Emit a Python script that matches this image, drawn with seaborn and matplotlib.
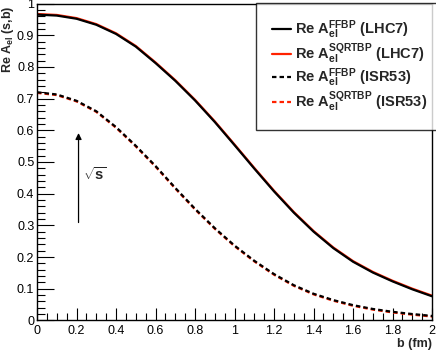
"""
Re A_el(s,b) vs impact parameter b, FFBP vs SQRTBP, LHC7 and ISR53.
"""

import matplotlib

matplotlib.use("Agg")
import matplotlib.pyplot as plt
import numpy as np
import pandas as pd
import seaborn as sns
from matplotlib.lines import Line2D
from matplotlib.ticker import FormatStrFormatter, MultipleLocator

# --- Data ------------------------------------------------------------------ #
b_fm = [0.0, 0.1, 0.2, 0.3, 0.4, 0.5, 0.6, 0.7, 0.8, 0.9, 1.0,
        1.1, 1.2, 1.3, 1.4, 1.5, 1.6, 1.7, 1.8, 1.9, 2.0]

lhc7_ffbp = [0.965, 0.962, 0.952, 0.933, 0.904, 0.864, 0.812, 0.756, 0.694, 0.626, 0.553,
             0.479, 0.407, 0.340, 0.280, 0.228, 0.185, 0.151, 0.123, 0.098, 0.076]
lhc7_sqrtbp = [0.967, 0.964, 0.954, 0.935, 0.906, 0.866, 0.814, 0.758, 0.696, 0.628, 0.555,
               0.481, 0.409, 0.342, 0.282, 0.230, 0.187, 0.153, 0.125, 0.100, 0.078]
isr53_ffbp = [0.720, 0.713, 0.693, 0.660, 0.610, 0.551, 0.487, 0.418, 0.352, 0.291, 0.236,
              0.188, 0.146, 0.111, 0.084, 0.064, 0.048, 0.036, 0.027, 0.020, 0.014]
isr53_sqrtbp = [0.718, 0.711, 0.691, 0.658, 0.608, 0.549, 0.485, 0.416, 0.350, 0.289, 0.234,
                0.186, 0.144, 0.109, 0.082, 0.062, 0.046, 0.034, 0.025, 0.018, 0.012]

series_labels = [
    r"Re A$_{el}^{FFBP}$ (LHC7)",
    r"Re A$_{el}^{SQRTBP}$ (LHC7)",
    r"Re A$_{el}^{FFBP}$ (ISR53)",
    r"Re A$_{el}^{SQRTBP}$ (ISR53)",
]

df = pd.DataFrame({
    "b": b_fm * 4,
    "re_a": lhc7_ffbp + lhc7_sqrtbp + isr53_ffbp + isr53_sqrtbp,
    "series": np.repeat(series_labels, len(b_fm)),
})

# --- Style ------------------------------------------------------------------ #
sns.set_style("ticks")
plt.rcParams["font.family"] = ["Liberation Sans", "DejaVu Sans"]
plt.rcParams["mathtext.fontset"] = "custom"
plt.rcParams["mathtext.rm"] = "Liberation Sans:bold"
plt.rcParams["mathtext.it"] = "Liberation Sans:bold"
plt.rcParams["mathtext.bf"] = "Liberation Sans:bold"
plt.rcParams["mathtext.default"] = "rm"

RED = "#ff2200"
DOT = (2.0, 1.4)
colors = {series_labels[0]: "black", series_labels[1]: RED,
          series_labels[2]: "black", series_labels[3]: RED}
solid = {series_labels[0]: True, series_labels[1]: True,
         series_labels[2]: False, series_labels[3]: False}

fig = plt.figure(figsize=(4.36, 3.54), dpi=100)
ax = fig.add_axes([0.085, 0.095, 0.906, 0.895])

# red drawn first, black on top
draw_order = [series_labels[1], series_labels[3], series_labels[0], series_labels[2]]
for name in draw_order:
    sub = df[df["series"] == name]
    sns.lineplot(data=sub, x="b", y="re_a", ax=ax, color=colors[name],
                 linewidth=1.6, legend=False,
                 linestyle="-" if solid[name] else (0, DOT))

ax.set_xlim(0, 2)
ax.set_ylim(0, 1)
ax.xaxis.set_major_locator(MultipleLocator(0.2))
ax.xaxis.set_minor_locator(MultipleLocator(0.05))
ax.yaxis.set_major_locator(MultipleLocator(0.1))
ax.yaxis.set_minor_locator(MultipleLocator(0.02))
ax.xaxis.set_major_formatter(FormatStrFormatter("%g"))
ax.yaxis.set_major_formatter(FormatStrFormatter("%g"))
ax.tick_params(which="both", direction="in", top=False, right=False,
               labelsize=9, colors="black", width=0.8)
ax.tick_params(axis="x", which="major", length=9, pad=3)
ax.tick_params(axis="x", which="minor", length=5)
ax.tick_params(axis="y", which="major", length=12, pad=2)
ax.tick_params(axis="y", which="minor", length=6)
for sp in ax.spines.values():
    sp.set_color("black")
    sp.set_linewidth(1.0)
ax.set_xlabel("")
ax.set_ylabel("")

# axis titles, ROOT-like placement
fig.text(0.991, 0.012, "b (fm)", ha="right", va="bottom", fontsize=9, fontweight="bold")
fig.text(0.018, 0.985, r"Re A$_{el}$ (s,b)", ha="center", va="top", rotation=90,
         fontsize=9, fontweight="bold")

# sqrt(s) arrow
ax.annotate("", xy=(0.21, 0.60), xytext=(0.21, 0.30),
            arrowprops=dict(arrowstyle="-|>", color="black", lw=0.9,
                            mutation_scale=9))
ax.text(0.235, 0.46, r"$\sqrt{s}$", fontsize=10.5, ha="left", va="center")

# legend (box runs off the right edge, as in the original)
handles = [
    Line2D([], [], color="black", lw=1.6),
    Line2D([], [], color=RED, lw=1.6),
    Line2D([], [], color="black", lw=1.6, dashes=DOT),
    Line2D([], [], color=RED, lw=1.6, dashes=DOT),
]
leg = ax.legend(handles, series_labels, loc="upper left", mode="expand",
                bbox_to_anchor=(0.553, 1.003, 0.48, 0.0), frameon=True, fancybox=False,
                edgecolor="black", prop={"size": 10.5, "weight": "bold"},
                handlelength=1.3, handletextpad=0.3, labelspacing=0.02,
                borderpad=1.1, borderaxespad=0.0)
leg.get_frame().set_linewidth(1.0)
leg.set_clip_on(False)

fig.savefig("out.png", dpi=100)
